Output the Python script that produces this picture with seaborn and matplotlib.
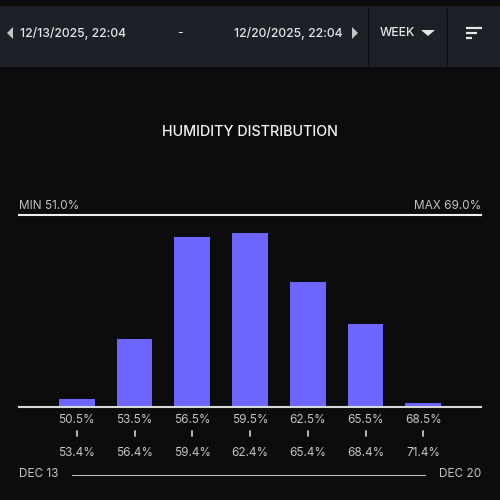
import matplotlib
matplotlib.use("Agg")
import matplotlib.pyplot as plt
from matplotlib.lines import Line2D
from matplotlib.patches import Rectangle, Polygon
import seaborn as sns
import pandas as pd

# data
bin_low = ["50.5%", "53.5%", "56.5%", "59.5%", "62.5%", "65.5%", "68.5%"]
bin_high = ["53.4%", "56.4%", "59.4%", "62.4%", "65.4%", "68.4%", "71.4%"]
counts = [2, 18, 45, 46, 33, 22, 1]
min_label = "MIN 51.0%"
max_label = "MAX 69.0%"
start_label = "12/13/2025, 22:04"
end_label = "12/20/2025, 22:04"
range_label = "WEEK"
first_day = "DEC 13"
last_day = "DEC 20"

BG = "#0c0c0c"
HEADER = "#1f2026"
BAR = "#6c66ff"
TEXT = "#e6e6e6"
SUB = "#c4c4c4"

sns.set_theme(style="dark")
plt.rcParams["font.family"] = ["Inter", "DejaVu Sans"]

df = pd.DataFrame({"bin": bin_low, "count": counts})

fig = plt.figure(figsize=(5, 5), dpi=100, facecolor=BG)

# header bar
fig.patches.append(Rectangle((0, 1 - 67 / 500), 1, 61 / 500, transform=fig.transFigure,
                             facecolor=HEADER, edgecolor="none", zorder=0))
for xs in (368, 447):
    fig.add_artist(Line2D([xs / 500] * 2, [1 - 8 / 500, 1 - 66 / 500], color="#0f0f12", lw=1))
fig.text(20 / 500, 1 - 33 / 500, start_label, color=TEXT, fontsize=8.8, weight="medium", va="center")
fig.text(180 / 500, 1 - 33 / 500, "-", color=TEXT, fontsize=8.8, va="center", ha="center")
fig.text(343 / 500, 1 - 33 / 500, end_label, color=TEXT, fontsize=8.8, weight="medium",
         va="center", ha="right")
fig.text(380 / 500, 1 - 33 / 500, range_label, color=TEXT, fontsize=8.8, weight="medium", va="center")
fig.patches.append(Polygon([(7 / 500, 1 - 33 / 500), (13 / 500, 1 - 27 / 500), (13 / 500, 1 - 39 / 500)],
                           transform=fig.transFigure, facecolor=SUB, edgecolor="none"))
fig.patches.append(Polygon([(358 / 500, 1 - 33 / 500), (352 / 500, 1 - 27 / 500), (352 / 500, 1 - 39 / 500)],
                           transform=fig.transFigure, facecolor=SUB, edgecolor="none"))
fig.patches.append(Polygon([(421 / 500, 1 - 30 / 500), (435 / 500, 1 - 30 / 500), (428 / 500, 1 - 36 / 500)],
                           transform=fig.transFigure, facecolor=TEXT, edgecolor="none"))
for yy, ln in ((28, 16), (33, 11), (38, 6)):
    fig.add_artist(Line2D([466 / 500, (466 + ln) / 500], [1 - yy / 500] * 2, color=TEXT, lw=1.6,
                          solid_capstyle="butt"))

fig.text(0.5, 1 - 132 / 500, "HUMIDITY DISTRIBUTION", color="#f2f2f2", fontsize=10.3,
         weight="medium", ha="center", va="center")

ax = fig.add_axes([19 / 500, 1 - 407 / 500, 462 / 500, 192 / 500])
ax.set_facecolor(BG)
sns.barplot(data=df, x="bin", y="count", color=BAR, saturation=1, width=0.62,
            linewidth=0, ax=ax)
ax.set_xlim(-1, 7)
ax.set_ylim(0, 50.7)
ax.set_xlabel("")
ax.set_ylabel("")
ax.set_yticks([])
ax.set_xticks([])
ax.grid(False)
for side in ("left", "right"):
    ax.spines[side].set_visible(False)
ax.spines["top"].set_color("#f0f0f0")
ax.spines["top"].set_linewidth(1.5)
ax.spines["bottom"].set_color("#d8d8d8")
ax.spines["bottom"].set_linewidth(1.5)

xt = ax.get_xaxis_transform()
for i, (lo, hi) in enumerate(zip(bin_low, bin_high)):
    ax.text(i, -0.068, lo, transform=xt, color=SUB, fontsize=8.5, ha="center", va="center")
    ax.add_line(Line2D([i, i], [-0.124, -0.150], transform=xt, color=SUB, lw=1.3, clip_on=False))
    ax.text(i, -0.240, hi, transform=xt, color=SUB, fontsize=8.5, ha="center", va="center")

ax.text(0, 1.045, min_label, transform=ax.transAxes, color=SUB, fontsize=8.5, ha="left", va="center")
ax.text(1, 1.045, max_label, transform=ax.transAxes, color=SUB, fontsize=8.5, ha="right", va="center")

fig.text(19 / 500, 1 - 474 / 500, first_day, color=SUB, fontsize=8.5, va="center")
fig.text(481 / 500, 1 - 474 / 500, last_day, color=SUB, fontsize=8.5, va="center", ha="right")
fig.add_artist(Line2D([72 / 500, 425 / 500], [1 - 474.5 / 500] * 2, color="#bdbdbd", lw=0.8))

fig.savefig("out.png", dpi=100, facecolor=BG)
